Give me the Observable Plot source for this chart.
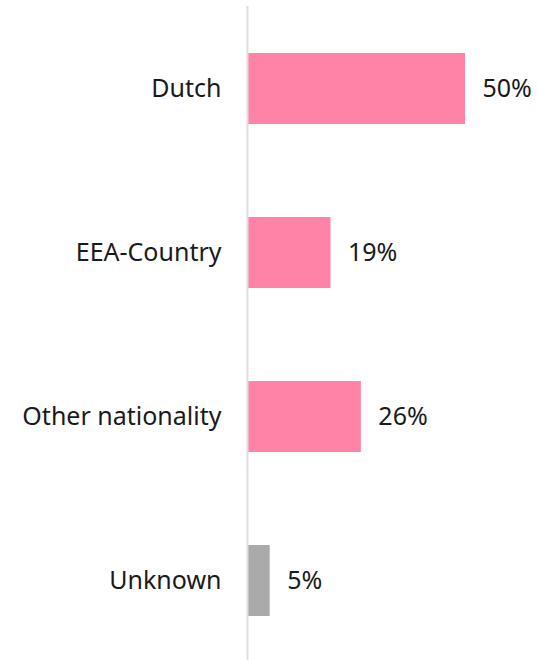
<!DOCTYPE html>
<html>
<head>
<meta charset="utf-8">
<script src="https://cdn.jsdelivr.net/npm/d3@7"></script>
<script src="https://cdn.jsdelivr.net/npm/@observablehq/plot@0.6"></script>
<style>
  html, body { margin: 0; padding: 0; background: #fff; }
  #chart svg { display: block; }
</style>
</head>
<body>
<div id="chart"></div>
<script>
const categories = ["Dutch", "EEA-Country", "Other nationality", "Unknown"];
const values = [50, 19, 26, 5];
const colors = ["#FF82A7", "#FF82A7", "#FF82A7", "#AAAAAA"];
const valueLabels = ["50%", "19%", "26%", "5%"];

const data = categories.map((c, i) => ({category: c, value: values[i], color: colors[i], label: valueLabels[i]}));

const chart = Plot.plot({
  width: 538,
  height: 660,
  marginLeft: 248,
  marginRight: 73,
  marginTop: 6,
  marginBottom: 0,
  style: {fontFamily: "'Noto Sans', sans-serif", fontSize: "25px", color: "#1a1a1a", background: "#fff"},
  x: {domain: [0, 50], axis: null},
  y: {domain: categories, range: [6.5, 662.5], paddingInner: 0.567, paddingOuter: 0.2835, axis: null},
  marks: [
    Plot.barX(data, {y: "category", x: "value", fill: "color"}),
    Plot.ruleX([0], {stroke: "#dddddd", strokeWidth: 2, dx: -1}),
    Plot.axisY({tickSize: 0, tickPadding: 27, fontSize: 25, fill: "#1a1a1a", label: null}),
    Plot.text(data, {y: "category", x: "value", text: "label", dx: 17, textAnchor: "start", fontSize: 25, fill: "#1a1a1a"})
  ]
});
document.getElementById("chart").appendChild(chart);
</script>
</body>
</html>
